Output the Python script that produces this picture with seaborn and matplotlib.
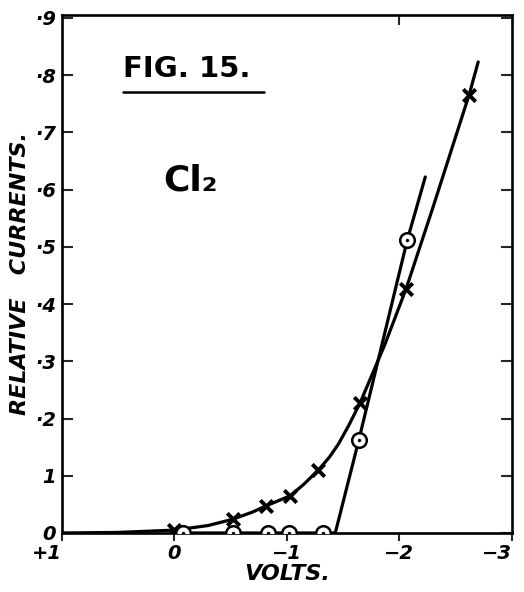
import matplotlib
matplotlib.use("Agg")
import matplotlib.pyplot as plt
import seaborn as sns

# measured points (volts, relative current)
cross_v = [0.0, -0.52, -0.81, -1.03, -1.28, -1.65, -2.06, -2.62]
cross_i = [0.005, 0.024, 0.047, 0.065, 0.11, 0.227, 0.427, 0.766]
circle_v = [-0.08, -0.52, -0.83, -1.02, -1.32, -1.64, -2.07]
circle_i = [0.0, 0.0, 0.0, 0.0, 0.0, 0.163, 0.512]

# hand drawn curves
cross_curve_v = [1.0, 0.5, 0.0, -0.3, -0.52, -0.7, -0.81, -1.03, -1.15, -1.28,
                 -1.38, -1.46, -1.55, -1.65, -1.87, -2.06, -2.3, -2.62, -2.70]
cross_curve_i = [0.0, 0.001, 0.005, 0.013, 0.024, 0.037, 0.047, 0.065, 0.085, 0.11,
                 0.133, 0.156, 0.188, 0.227, 0.329, 0.427, 0.57, 0.766, 0.823]
circle_curve_v = [0.0, -1.43, -1.64, -2.07, -2.23]
circle_curve_i = [0.0, 0.0, 0.163, 0.512, 0.622]

x_ticks = [1, 0, -1, -2, -3]
x_labels = ["+1", "0", "\u22121", "\u22122", "\u22123"]
y_ticks = [0, 0.1, 0.2, 0.3, 0.4, 0.5, 0.6, 0.7, 0.8, 0.9]
y_labels = ["0", "1", "\u00b72", "\u00b73", "\u00b74", "\u00b75", "\u00b76", "\u00b77", "\u00b78", "\u00b79"]

sns.set_theme(style="ticks")
plt.rcParams["font.family"] = ["DejaVu Sans"]

fig = plt.figure(figsize=(5.24, 5.92), dpi=100)
ax = fig.add_axes([0.118, 0.0997, 0.859, 0.875])

lw = 2.3
sns.lineplot(x=cross_curve_v, y=cross_curve_i, sort=False, estimator=None,
             color="black", lw=lw, ax=ax, zorder=2)
sns.lineplot(x=circle_curve_v, y=circle_curve_i, sort=False, estimator=None,
             color="black", lw=lw, ax=ax, zorder=2)

sns.scatterplot(x=cross_v, y=cross_i, marker="x", s=80, color="black",
                linewidth=2.8, ax=ax, zorder=4)
sns.scatterplot(x=circle_v, y=circle_i, marker="o", s=110, facecolor="white",
                edgecolor="black", linewidth=1.8, ax=ax, zorder=4)
sns.scatterplot(x=circle_v, y=circle_i, marker="o", s=6, color="black",
                linewidth=0, ax=ax, zorder=5)

ax.set_xlim(1, -3)
ax.set_ylim(0, 0.905)

for s in ax.spines.values():
    s.set_linewidth(1.9)
    s.set_color("black")

font = dict(style="oblique", weight="bold", color="black")
ax.set_xticks(x_ticks)
ax.set_xticklabels(x_labels, fontsize=14, **font)
ax.set_yticks(y_ticks)
ax.set_yticklabels(y_labels, fontsize=14, **font)
ax.tick_params(axis="x", direction="out", length=6, width=1.5, pad=2)
ax.tick_params(axis="y", direction="in", length=8, width=1.5, right=True, pad=4)
ax.get_xticklabels()[0].set_ha("right")
ax.get_xticklabels()[-1].set_ha("right")

top = ax.secondary_xaxis("top")
top.set_xticks([-2])
top.set_xticklabels([""])
top.tick_params(direction="in", length=7, width=1.5)
top.spines["top"].set_visible(False)

ax.set_xlabel("VOLTS.", fontsize=16, labelpad=1, **font)
ax.set_ylabel("RELATIVE   CURRENTS.", fontsize=16, labelpad=4, **font)

ax.text(0.135, 0.895, "FIG. 15.", transform=ax.transAxes, fontsize=21,
        weight="bold", ha="left", va="center", color="black")
ax.plot([0.135, 0.45], [0.852, 0.852], transform=ax.transAxes, color="black", lw=1.8)
ax.text(0.225, 0.68, "Cl\u2082", transform=ax.transAxes, fontsize=26,
        weight="bold", ha="left", va="center", color="black")

fig.savefig("out.png", dpi=100)
